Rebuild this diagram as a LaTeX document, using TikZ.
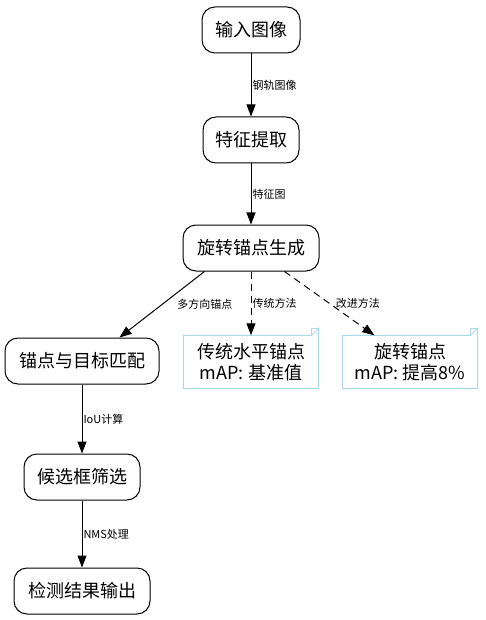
\documentclass[tikz,border=0pt]{standalone}
\usepackage{fontspec}
\setmainfont{Noto Sans CJK SC}
\usetikzlibrary{arrows.meta}
\definecolor{notecol}{HTML}{ADD8E6}
\begin{document}
\begin{tikzpicture}[x=1pt,y=-1pt,
  proc/.style={draw, line width=1pt, rounded corners=13pt, minimum height=46pt, inner sep=0pt, font=\fontsize{18}{21}\selectfont},
  notebox/.style={minimum width=135pt, minimum height=53pt, inner sep=0pt, align=center, font=\fontsize{18}{21}\selectfont},
  notec/.style={draw=notecol, line width=1pt, line join=miter},
  edge/.style={line width=1pt, -{Triangle[length=12pt,width=9pt]}},
  dedge/.style={edge, dash pattern=on 7pt off 5pt},
  lab/.style={font=\fontsize{11}{13}\selectfont, inner sep=0pt, anchor=west}]
\useasboundingbox (0,0) rectangle (486,620);
\node[proc, minimum width=98pt]  (a) at (251,30)  {输入图像};
\node[proc, minimum width=96pt]  (b) at (251,140) {特征提取};
\node[proc, minimum width=136pt] (c) at (251,248) {旋转锚点生成};
\node[proc, minimum width=154pt] (d) at (82,361)  {锚点与目标匹配};
\node[proc, minimum width=116pt] (e) at (82,477)  {候选框筛选};
\node[proc, minimum width=136pt] (f) at (82,591)  {检测结果输出};
\node[notebox] (n1) at (251,362) {传统水平锚点\\mAP: 基准值};
\node[notebox] (n2) at (410,362) {旋转锚点\\mAP: 提高8\%};
\foreach \n in {n1,n2}{
  \draw[notec] (\n.north west) -- ([xshift=-7pt]\n.north east) -- ([yshift=7pt]\n.north east) -- (\n.south east) -- (\n.south west) -- cycle;
  \draw[notec] ([xshift=-7pt]\n.north east) -- ([xshift=-7pt,yshift=7pt]\n.north east) -- ([yshift=7pt]\n.north east);
}
\draw[edge] (a) -- node[lab, xshift=1pt] {钢轨图像} (b);
\draw[edge] (b) -- node[lab, xshift=1pt] {特征图} (c);
\draw[edge] ([xshift=22pt]c.south west) -- node[lab, pos=0.49, xshift=14pt] {多方向锚点} ([xshift=115pt]d.north west);
\draw[dedge] (c) -- node[lab, xshift=1pt, pos=0.5] {传统方法} (n1);
\draw[dedge] ([xshift=102pt]c.south west) -- node[lab, pos=0.5, xshift=6pt] {改进方法} ([xshift=32pt]n2.north west);
\draw[edge] (d) -- node[lab, xshift=1pt] {IoU计算} (e);
\draw[edge] (e) -- node[lab, xshift=1pt] {NMS处理} (f);
\end{tikzpicture}
\end{document}
